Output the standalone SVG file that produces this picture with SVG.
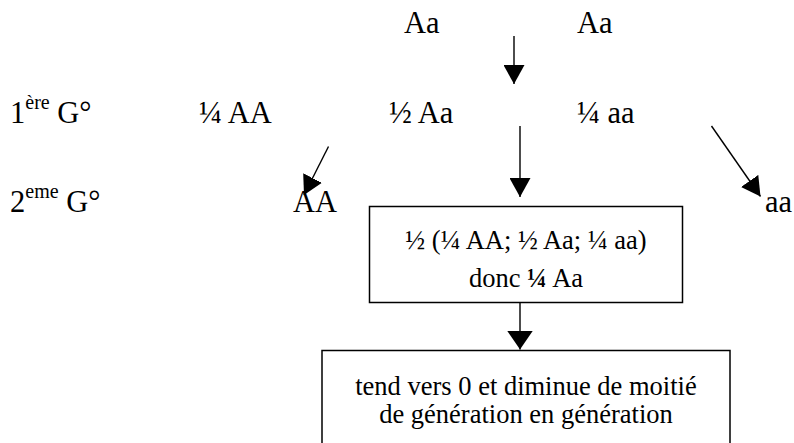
<svg xmlns="http://www.w3.org/2000/svg" width="794" height="443" viewBox="0 0 794 443">
<defs>
<style>
text{font-family:"Liberation Serif","Times New Roman",serif;fill:#000}
.big{font-size:30.5px}
.box{font-size:26.5px;text-anchor:middle}
.sup{font-size:20px}
.node rect{fill:#fff;stroke:#000;stroke-width:1.5}
.conn line{stroke:#000;stroke-width:1.4}
</style>
<marker id="ah" viewBox="0 0 19 21" refX="19" refY="10.5" markerUnits="userSpaceOnUse" markerWidth="19" markerHeight="21" orient="auto">
<path d="M0,0 L19,10.5 L0,21 Z" fill="#000"/>
</marker>
<marker id="ahw" viewBox="0 0 19 26" refX="19" refY="13" markerUnits="userSpaceOnUse" markerWidth="19" markerHeight="26" orient="auto">
<path d="M0,0 L19,13 L0,26 Z" fill="#000"/>
</marker>
</defs>
<rect width="794" height="443" fill="#fff"/>
<g id="parent1"><text class="big" x="404" y="33">Aa</text></g>
<g id="parent2"><text class="big" x="577" y="33">Aa</text></g>
<g id="label-g1"><text class="big" x="10" y="123">1<tspan class="sup" dy="-14">ère</tspan><tspan dy="14"> G°</tspan></text></g>
<g id="g1-AA"><text class="big" x="199" y="123">¼ AA</text></g>
<g id="g1-Aa"><text class="big" x="389" y="123">½ Aa</text></g>
<g id="g1-aa"><text class="big" x="577" y="123">¼ aa</text></g>
<g id="label-g2"><text class="big" x="10" y="212">2<tspan class="sup" dy="-14">eme</tspan><tspan dy="14"> G°</tspan></text></g>
<g id="g2-AA"><text class="big" x="293" y="212">AA</text></g>
<g id="g2-aa"><text class="big" x="765" y="212">aa</text></g>
<g id="box1" class="node">
<rect x="369.5" y="206.5" width="313" height="96"/>
<text class="box" x="526" y="249">½ (¼ AA; ½ Aa; ¼ aa)</text>
<text class="box" x="526" y="287">donc <tspan font-weight="bold">¼</tspan> Aa</text>
</g>
<g id="box2" class="node">
<rect x="322" y="350.5" width="408" height="110"/>
<text class="box" x="526" y="395">tend vers 0 et diminue de moitié</text>
<text class="box" x="526" y="423">de génération en génération</text>
</g>
<g id="connectors" class="conn">
<line x1="514" y1="36" x2="514" y2="84" marker-end="url(#ah)"/>
<line x1="520" y1="126" x2="520" y2="197" marker-end="url(#ah)"/>
<line x1="520" y1="302.5" x2="520" y2="349.5" marker-end="url(#ahw)"/>
<line x1="328.5" y1="146.5" x2="304" y2="195" marker-end="url(#ah)"/>
<line x1="711.5" y1="126" x2="760.5" y2="196.5" marker-end="url(#ah)"/>
</g>
</svg>
